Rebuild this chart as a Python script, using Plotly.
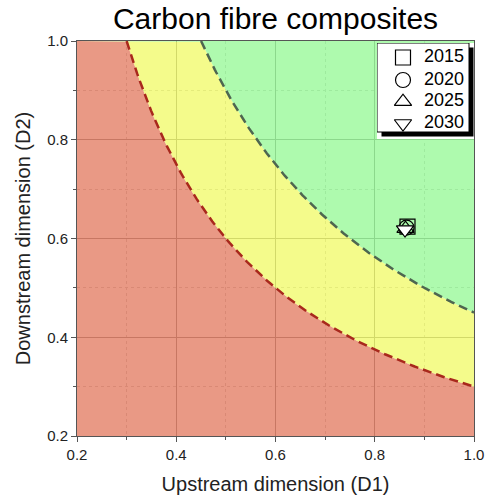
import numpy as np
import plotly.graph_objects as go

# Data
years = ["2015", "2020", "2025", "2030"]
d1 = [0.866, 0.864, 0.862, 0.861]
d2 = [0.624, 0.622, 0.620, 0.618]
symbols = ["square-open", "circle-open", "triangle-up-open", "triangle-down"]
marker_fill = ["black", "black", "black", "white"]

# iso-lines D1*D2 = threshold bounding the zones
thresholds = [0.30, 0.45]
x_lo, x_hi = 0.2, 1.0

FONT = "Liberation Sans, Arial, sans-serif"

# plot area in pixels
PL, PR, PT, PB = 77, 474, 41, 436
W, H = 486, 499

x = np.linspace(x_lo, x_hi, 400)
b_red = np.minimum(thresholds[0] / x, 1.0)
b_green = np.minimum(thresholds[1] / x, 1.0)

fig = go.Figure()
fig.add_trace(go.Scatter(x=x, y=b_red, mode="lines", line=dict(width=0),
                         fill="tozeroy", fillcolor="rgba(224,109,81,0.7)",
                         showlegend=False, hoverinfo="skip"))
fig.add_trace(go.Scatter(x=x, y=b_green, mode="lines", line=dict(width=0),
                         fill="tonexty", fillcolor="rgba(240,250,90,0.7)",
                         showlegend=False, hoverinfo="skip"))
fig.add_trace(go.Scatter(x=x, y=np.ones_like(x), mode="lines", line=dict(width=0),
                         fill="tonexty", fillcolor="rgba(139,248,139,0.7)",
                         showlegend=False, hoverinfo="skip"))

# dashed boundary lines
xr = np.linspace(thresholds[0], x_hi, 200)
fig.add_trace(go.Scatter(x=xr, y=thresholds[0] / xr, mode="lines",
                         line=dict(color="#A8281C", width=2.5, dash="9px,5px"),
                         showlegend=False, hoverinfo="skip"))
xg = np.linspace(thresholds[1], x_hi, 200)
fig.add_trace(go.Scatter(x=xg, y=thresholds[1] / xg, mode="lines",
                         line=dict(color="#4E6650", width=2.5, dash="9px,5px"),
                         showlegend=False, hoverinfo="skip"))

for yr, xv, yv, sym, fc in zip(years, d1, d2, symbols, marker_fill):
    fig.add_trace(go.Scatter(x=[xv], y=[yv], mode="markers", name=yr,
                             marker=dict(symbol=sym, size=15, color=fc,
                                         line=dict(color="black", width=1.2)),
                             showlegend=False))

# ---- hand-drawn legend with black drop shadow, on an overlay axis in pixel units
LX0, LX1, LY0, LY1 = 377, 474, 43, 139
box = dict(x0=377, x1=469, y0=43, y1=132)
sh = 4.5
row_y = [57.5, 80, 101.7, 123.5]
sym_x = 403
txt_x = 424

fig.add_trace(go.Scatter(
    x=[box["x0"] + sh, box["x1"] + sh, box["x1"] + sh, box["x0"] + sh, box["x0"] + sh],
    y=[box["y0"] + sh, box["y0"] + sh, box["y1"] + sh, box["y1"] + sh, box["y0"] + sh],
    xaxis="x2", yaxis="y2", mode="lines", fill="toself", fillcolor="black",
    line=dict(width=0), showlegend=False, hoverinfo="skip"))
fig.add_trace(go.Scatter(
    x=[box["x0"], box["x1"], box["x1"], box["x0"], box["x0"]],
    y=[box["y0"], box["y0"], box["y1"], box["y1"], box["y0"]],
    xaxis="x2", yaxis="y2", mode="lines", fill="toself", fillcolor="white",
    line=dict(width=1, color="black"), showlegend=False, hoverinfo="skip"))
for yr, sym, fc, ry in zip(years, symbols, marker_fill, row_y):
    fig.add_trace(go.Scatter(
        x=[sym_x], y=[ry], xaxis="x2", yaxis="y2", mode="markers",
        marker=dict(symbol=sym, size=15, color=fc, line=dict(color="black", width=1.2)),
        showlegend=False, hoverinfo="skip"))
fig.add_trace(go.Scatter(
    x=[txt_x] * len(years), y=row_y, text=years, xaxis="x2", yaxis="y2",
    mode="text", textposition="middle right",
    textfont=dict(family=FONT, size=18, color="black"),
    showlegend=False, hoverinfo="skip"))

axis_common = dict(
    range=[0.2, 1.0], dtick=0.2, tick0=0.2, tickformat=".1f",
    showgrid=True, gridcolor="#8c8c8c", gridwidth=1,
    showline=True, linecolor="#555555", linewidth=1, mirror=True,
    ticks="outside", ticklen=5, tickcolor="#555555",
    tickfont=dict(family=FONT, size=15, color="#222"),
    zeroline=False, automargin=False,
    minor=dict(dtick=0.1, tick0=0.2, showgrid=True, gridcolor="#c8c8c8",
               griddash="dot", gridwidth=1, ticks="outside", ticklen=3,
               tickcolor="#555555"),
)

pw, ph = PR - PL, PB - PT
fig.update_layout(
    width=W, height=H,
    margin=dict(l=PL, r=W - PR, t=PT, b=H - PB, autoexpand=False),
    paper_bgcolor="white", plot_bgcolor="white",
    title=dict(text="Carbon fibre composites", x=(PL + PR) / 2 / W, xanchor="center",
               xref="container", yref="container", y=1 - 18 / H, yanchor="middle",
               font=dict(family=FONT, size=30, color="black")),
    xaxis=dict(axis_common, title=dict(text="Upstream dimension (D1)", standoff=14,
                                       font=dict(family=FONT, size=20, color="#222"))),
    yaxis=dict(axis_common, title=dict(text="Downstream dimension (D2)", standoff=11,
                                       font=dict(family=FONT, size=20, color="#222"))),
    xaxis2=dict(domain=[(LX0 - PL) / pw, (LX1 - PL) / pw], range=[LX0, LX1],
                visible=False, anchor="y2", fixedrange=True),
    yaxis2=dict(domain=[1 - (LY1 - PT) / ph, 1 - (LY0 - PT) / ph], range=[LY1, LY0],
                visible=False, anchor="x2", fixedrange=True),
    showlegend=False,
)

fig.write_html("out.html")
